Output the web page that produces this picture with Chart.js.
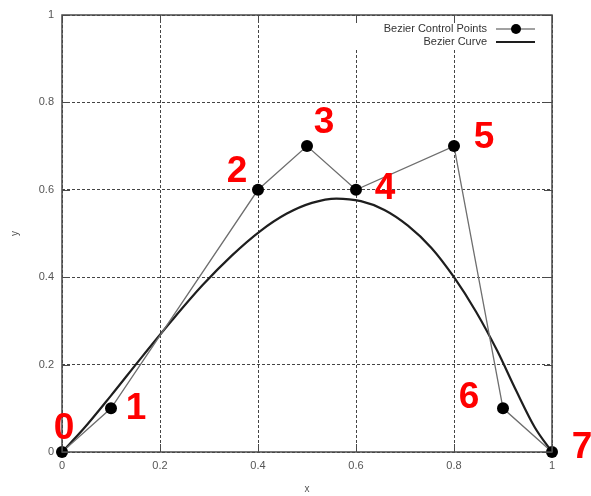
<!DOCTYPE html>
<html>
<head>
<meta charset="utf-8">
<script src="https://cdn.jsdelivr.net/npm/chart.js@4"></script>
<style>
  body { margin: 0; background: #fff; }
  #myChart { display: block; }
</style>
</head>
<body>
<canvas id="myChart" width="591" height="496"></canvas>
<script>
const controlX = [0, 0.1, 0.4, 0.5, 0.6, 0.8, 0.9, 1]
const controlY = [0, 0.1, 0.6, 0.7, 0.6, 0.7, 0.1, 0]
const controlNames = ['0', '1', '2', '3', '4', '5', '6', '7']

const curveX = [0, 0.044, 0.1, 0.162, 0.225, 0.287, 0.347, 0.404, 0.458, 0.51, 0.56, 0.61, 0.658, 0.706, 0.754, 0.8, 0.845, 0.888, 0.927, 0.965, 1]
const curveY = [0, 0.053, 0.129, 0.216, 0.302, 0.382, 0.45, 0.505, 0.545, 0.57, 0.58, 0.574, 0.554, 0.518, 0.467, 0.4, 0.321, 0.232, 0.14, 0.056, 0]

const xTicks = [0, 0.2, 0.4, 0.6, 0.8, 1]
const yTicks = [0, 0.2, 0.4, 0.6, 0.8, 1]

const labelOffsets = [[2, -24], [25, -1], [-21, -19], [17, -24], [29, -2], [30, -9], [-34, -12], [30, -5]]

const chart = document.getElementById('myChart')

function toPoints(xs, ys) {
    let pts = []
    for (let i = 0; i < xs.length; i++) {
        pts.push({ x: xs[i], y: ys[i] })
    }
    return pts
}

function tickText(v) {
    return String(Math.round(v * 10) / 10)
}

const frameAndLabels = {
    id: 'frameAndLabels',
    beforeDatasetsDraw(c) {
        // legend box hides the grid behind it
        const ctx = c.ctx
        ctx.save()
        ctx.fillStyle = '#fff'
        ctx.fillRect(350, 21, 197, 28)
        ctx.restore()
    },
    afterDatasetsDraw(c) {
        const ctx = c.ctx
        const a = c.chartArea
        const xs = c.scales.x
        const ys = c.scales.y
        ctx.save()
        // frame + inward ticks
        ctx.strokeStyle = '#4a4a4a'
        ctx.lineWidth = 1.5
        ctx.strokeRect(a.left, a.top, a.right - a.left, a.bottom - a.top)
        ctx.lineWidth = 1
        xTicks.forEach(v => {
            const px = Math.round(xs.getPixelForValue(v)) + 0.5
            ctx.beginPath()
            ctx.moveTo(px, a.bottom); ctx.lineTo(px, a.bottom - 8)
            ctx.moveTo(px, a.top); ctx.lineTo(px, a.top + 8)
            ctx.stroke()
        })
        yTicks.forEach(v => {
            const py = Math.round(ys.getPixelForValue(v)) + 0.5
            ctx.beginPath()
            ctx.moveTo(a.left, py); ctx.lineTo(a.left + 8, py)
            ctx.moveTo(a.right, py); ctx.lineTo(a.right - 8, py)
            ctx.stroke()
        })

        // legend, gnuplot style
        const ds = c.data.datasets
        ctx.font = '11px "Liberation Sans", Arial, sans-serif'
        ctx.fillStyle = '#333'
        ctx.textAlign = 'right'
        ctx.textBaseline = 'middle'
        const rows = [29, 42]
        ds.forEach((d, i) => {
            const y = rows[i]
            ctx.fillText(d.label, 487, y)
            ctx.strokeStyle = i === 0 ? '#444' : d.borderColor
            ctx.lineWidth = i === 0 ? 1.2 : d.borderWidth
            ctx.beginPath()
            ctx.moveTo(496, y); ctx.lineTo(535, y)
            ctx.stroke()
            if (d.pointRadius > 0) {
                ctx.fillStyle = d.pointBackgroundColor
                ctx.beginPath()
                ctx.arc(516, y, 5, 0, Math.PI * 2)
                ctx.fill()
                ctx.fillStyle = '#333'
            }
        })

        // red point numbers
        ctx.font = 'bold 37px "Liberation Sans", Arial, sans-serif'
        ctx.fillStyle = '#ff0000'
        ctx.textAlign = 'center'
        ctx.textBaseline = 'middle'
        const meta = c.getDatasetMeta(0)
        meta.data.forEach((el, i) => {
            ctx.fillText(controlNames[i], el.x + labelOffsets[i][0], el.y + labelOffsets[i][1] + 1)
        })
        ctx.restore()
    }
}

const gridStyle = {
    color: '#444',
    lineWidth: 1,
    drawTicks: false
}

new Chart(chart, {
    type: 'scatter',
    data: {
        datasets: [{
            label: 'Bezier Control Points',
            data: toPoints(controlX, controlY),
            showLine: true,
            borderColor: '#6e6e6e',
            borderWidth: 1.3,
            pointRadius: 6,
            pointHoverRadius: 6,
            pointBackgroundColor: '#000',
            pointBorderWidth: 0,
            tension: 0,
            clip: false
        }, {
            label: 'Bezier Curve',
            data: toPoints(curveX, curveY),
            showLine: true,
            borderColor: '#1e1e1e',
            borderWidth: 2.2,
            pointRadius: 0,
            cubicInterpolationMode: 'monotone',
            clip: false
        }]
    },
    options: {
        responsive: false,
        animation: false,
        events: [],
        layout: {
            padding: { top: 15, right: 39, left: 0, bottom: 0 }
        },
        plugins: {
            legend: { display: false },
            tooltip: { enabled: false }
        },
        scales: {
            x: {
                type: 'linear',
                min: 0,
                max: 1,
                afterFit(s) { s.height = 44 },
                afterBuildTicks(s) { s.ticks = xTicks.map(v => ({ value: v })) },
                grid: gridStyle,
                border: { display: false, dash: [3, 2] },
                ticks: {
                    padding: 7,
                    color: '#555',
                    callback: tickText,
                    font: { family: '"Liberation Sans", Arial, sans-serif', size: 11 }
                },
                title: {
                    display: true,
                    text: 'x',
                    color: '#555',
                    padding: { top: 0, bottom: 1 },
                    font: { family: '"Liberation Sans", Arial, sans-serif', size: 10 }
                }
            },
            y: {
                type: 'linear',
                min: 0,
                max: 1,
                afterFit(s) { s.width = 62 },
                afterBuildTicks(s) { s.ticks = yTicks.map(v => ({ value: v })) },
                grid: gridStyle,
                border: { display: false, dash: [3, 2] },
                ticks: {
                    padding: 8,
                    color: '#555',
                    callback: tickText,
                    font: { family: '"Liberation Sans", Arial, sans-serif', size: 11 }
                },
                title: {
                    display: true,
                    text: 'y',
                    color: '#555',
                    padding: { top: 9, bottom: 0 },
                    font: { family: '"Liberation Sans", Arial, sans-serif', size: 10 }
                }
            }
        }
    },
    plugins: [frameAndLabels]
})
</script>
</body>
</html>
